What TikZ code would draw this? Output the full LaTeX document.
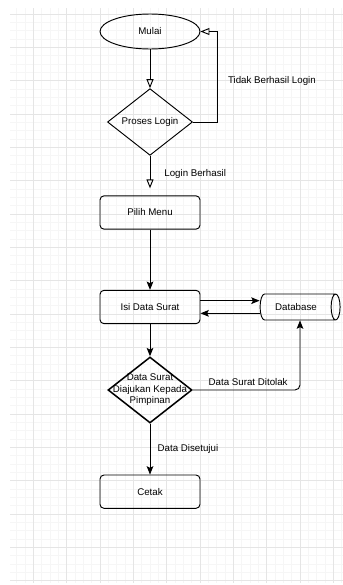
\documentclass[tikz,border=0pt]{standalone}
\usepackage{fontspec}
\setmainfont{Liberation Sans}
\usetikzlibrary{shapes.geometric,arrows.meta}

\begin{document}
\begin{tikzpicture}[
    font=\fontsize{8.3}{10}\selectfont,
    terminal/.style={ellipse,draw,line width=0.8pt,minimum width=3cm,minimum height=1.05cm},
    box/.style={rectangle,rounded corners=0.12cm,draw,line width=0.8pt,minimum width=3cm,minimum height=1cm},
    decision/.style={diamond,draw,line width=0.8pt,aspect=1.27,inner sep=0pt},
    store/.style={cylinder,draw,line width=0.8pt,aspect=0.6,minimum width=0.78cm,minimum height=2.4cm},
    openarr/.style={-{Triangle[open,length=0.27cm,width=0.21cm]},line width=0.8pt},
    solidarr/.style={-{Stealth[length=0.25cm,width=0.2cm,inset=0.05cm]},line width=0.8pt}
]
    \useasboundingbox (0,0) rectangle (10.29,-17.55);
    % Grid
    \draw[gray!7,line width=0.4pt,yshift=-0.42cm] (0.3,0.18) grid[step=0.25] (10.29,-17.07);
    \draw[gray!20,line width=0.5pt,yshift=-0.42cm] (0.3,0.18) grid (10.29,-17.07);

    % simbol
    \node[terminal] (mulai) at (4.5,-0.945) {Mulai};
    \node[decision,minimum width=2.55cm,minimum height=2cm] (login) at (4.5,-3.66) {Proses Login};
    \node[box] (pilih) at (4.5,-6.375) {Pilih Menu};
    \node[box] (isi) at (4.5,-9.21) {Isi Data Surat};
    \node[store] (db) at (8.88,-9.21) {Database};
    \node[decision,line width=1.3pt,minimum width=2.52cm,minimum height=1.98cm,
          label={[align=center,font=\fontsize{8.3}{9.8}\selectfont]center:Data Surat\\Diajukan Kepada\\Pimpinan}] (cek) at (4.5,-11.7) {};
    \node[box] (cetak) at (4.5,-14.75) {Cetak};

    % alur
    \draw[openarr] (mulai) -- (login);
    \draw[openarr] (login.east) -- ++(0.72,0) |- (mulai.east)
        node[pos=0.225,right,xshift=0.2cm] {Tidak Berhasil Login};
    \draw[openarr,shorten >=0.21cm] (login) -- (pilih)
        node[pos=0.45,right,xshift=0.3cm] {Login Berhasil};
    \draw[solidarr] (pilih) -- (isi);
    \draw[solidarr] ([yshift=0.19cm]isi.east) -- ([yshift=0.19cm]db.west);
    \draw[solidarr] ([yshift=-0.19cm]db.west) -- ([yshift=-0.19cm]isi.east);
    \draw[solidarr] (isi) -- (cek);
    \draw[solidarr,rounded corners=0.15cm] (cek.east) -| ([xshift=0.12cm]db.south)
        node[pos=0.054,above right] {Data Surat Ditolak};
    \draw[solidarr] (cek) -- (cetak)
        node[midway,right,xshift=0.1cm] {Data Disetujui};

\end{tikzpicture}
\end{document}
